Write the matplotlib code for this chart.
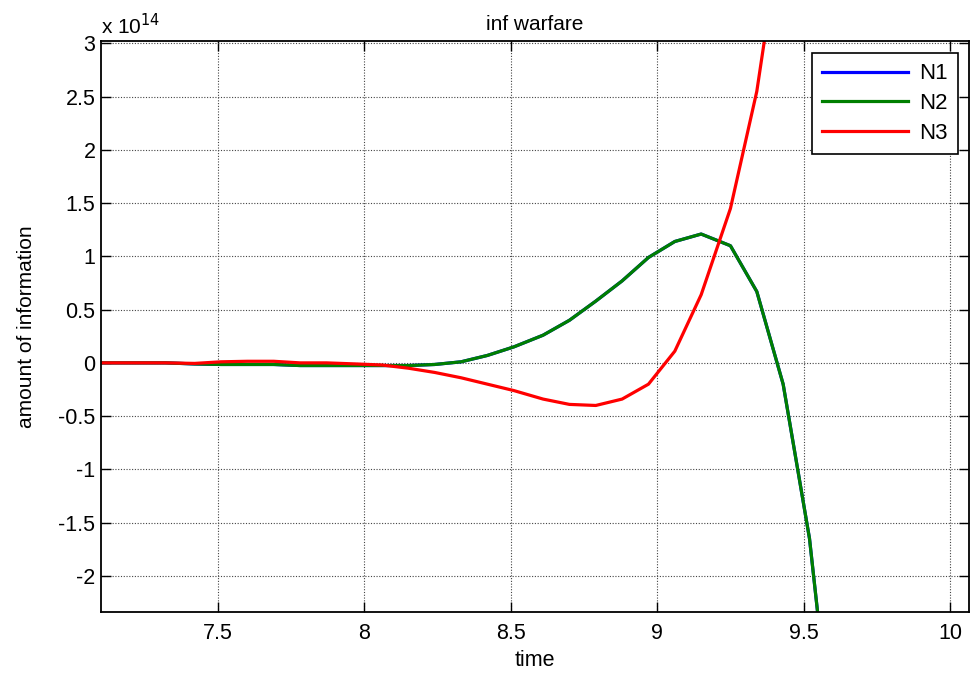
import matplotlib
matplotlib.use("Agg")
import matplotlib.pyplot as plt
from matplotlib.ticker import FuncFormatter, MultipleLocator

plt.rcParams['font.family'] = ['Liberation Sans', 'DejaVu Sans']
plt.rcParams['axes.unicode_minus'] = False

# time samples
time = [7.05, 7.14, 7.23, 7.32, 7.42, 7.51, 7.60, 7.69, 7.78, 7.87,
        7.97, 8.06, 8.15, 8.24, 8.33, 8.42, 8.51, 8.61, 8.70, 8.79,
        8.88, 8.97, 9.06, 9.15, 9.25, 9.34, 9.43, 9.52, 9.61]

# values in units of 1e14
n2 = [0.0, 0.0, 0.0, 0.0, -0.01, -0.015, -0.015, -0.015, -0.025, -0.025,
      -0.025, -0.025, -0.025, -0.015, 0.01, 0.07, 0.15, 0.26, 0.40, 0.58,
      0.77, 0.99, 1.14, 1.21, 1.10, 0.67, -0.20, -1.65, -3.9]
n1 = list(n2)
n3 = [0.0, 0.0, 0.0, 0.0, -0.005, 0.01, 0.015, 0.015, 0.0, 0.0,
      -0.01, -0.02, -0.05, -0.09, -0.14, -0.20, -0.26, -0.34, -0.39, -0.40,
      -0.34, -0.20, 0.11, 0.64, 1.45, 2.55, 4.2, 6.5, 9.0]

labels = ['N1', 'N2', 'N3']
colors = ['#0000ff', '#007f00', '#ff0000']

fig = plt.figure(figsize=(9.71, 6.73), dpi=100)
ax = fig.add_axes([0.104, 0.0906, 0.894, 0.848])

for y, lab, c in zip([n1, n2, n3], labels, colors):
    ax.plot(time, y, color=c, lw=2.3, label=lab)

ax.set_xlim(7.10, 10.065)
ax.set_ylim(-2.34, 3.02)
ax.xaxis.set_major_locator(MultipleLocator(0.5))
ax.yaxis.set_major_locator(MultipleLocator(0.5))
fmt = FuncFormatter(lambda v, p: '%g' % round(v, 2))
ax.xaxis.set_major_formatter(fmt)
ax.yaxis.set_major_formatter(fmt)

ax.grid(True, color='#444444', linestyle=(0, (1, 1.5)), linewidth=0.8)
ax.tick_params(direction='in', top=True, right=True, length=7, width=1,
               labelsize=15.5)
ax.tick_params(axis='x', pad=8)
ax.tick_params(axis='y', pad=4)
for s in ax.spines.values():
    s.set_linewidth(1.3)

ax.set_xlabel('time', fontsize=15.5, labelpad=4)
ax.set_ylabel('amount of information', fontsize=15, labelpad=16)
ax.set_title('inf warfare', fontsize=15, pad=8)
ax.text(0.0, 1.006, r'x 10$^{14}$', transform=ax.transAxes, fontsize=15,
        ha='left', va='bottom')

leg = ax.legend(loc='upper right', fontsize=16, frameon=True, fancybox=False,
                edgecolor='black', framealpha=1, borderpad=0.45,
                handlelength=3.9, handletextpad=0.5, labelspacing=0.4,
                borderaxespad=0, bbox_to_anchor=(0.9875, 0.979))
leg.get_frame().set_linewidth(1.2)

fig.savefig('out.png', dpi=100)
